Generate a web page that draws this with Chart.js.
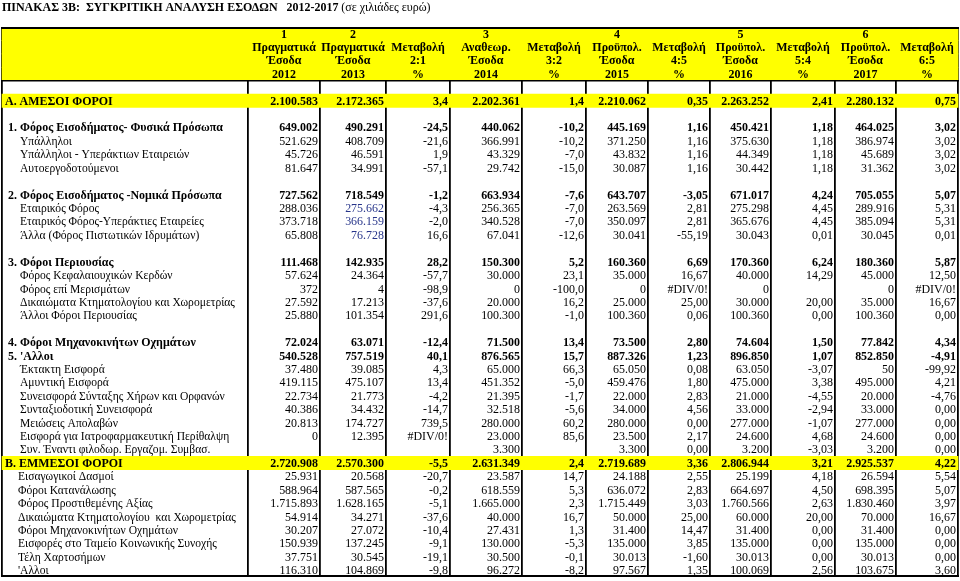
<!DOCTYPE html>
<html>
<head>
<meta charset="utf-8">
<script src="https://cdn.jsdelivr.net/npm/chart.js@4.4.1/dist/chart.umd.min.js"></script>
<style>
    html, body { margin: 0; padding: 0; background: #fff; }
    canvas { display: block; }
</style>
</head>
<body>
<canvas id="chartEsoda" width="960" height="581"></canvas>
<script>
// ==============================
// Data
// ==============================
const titleMain = 'ΠΙΝΑΚΑΣ 3Β:  ΣΥΓΚΡΙΤΙΚΗ ΑΝΑΛΥΣΗ ΕΣΟΔΩΝ   2012-2017';
const titleNote = ' (σε χιλιάδες ευρώ)';

const headNum  = ['1', '2', '', '3', '', '4', '', '5', '', '6', ''];
const headName = ['Πραγματικά', 'Πραγματικά', 'Μεταβολή', 'Αναθεωρ.', 'Μεταβολή', 'Προϋπολ.', 'Μεταβολή', 'Προϋπολ.', 'Μεταβολή', 'Προϋπολ.', 'Μεταβολή'];
const headSub  = ['Έσοδα', 'Έσοδα', '2:1', 'Έσοδα', '3:2', 'Έσοδα', '4:5', 'Έσοδα', '5:4', 'Έσοδα', '6:5'];
const headYear = ['2012', '2013', '%', '2014', '%', '2015', '%', '2016', '%', '2017', '%'];

const rowLabels = [
    'Α. ΑΜΕΣΟΙ ΦΟΡΟΙ', '',
    '1. Φόρος Εισοδήματος- Φυσικά Πρόσωπα', 'Υπάλληλοι', 'Υπάλληλοι - Υπεράκτιων Εταιρειών', 'Αυτοεργοδοτούμενοι', '',
    '2. Φόρος Εισοδήματος -Νομικά Πρόσωπα', 'Εταιρικός Φόρος', 'Εταιρικός Φόρος-Υπεράκτιες Εταιρείες', 'Άλλα (Φόρος Πιστωτικών Ιδρυμάτων)', '',
    '3. Φόροι Περιουσίας', 'Φόρος Κεφαλαιουχικών Κερδών', 'Φόρος επί Μερισμάτων', 'Δικαιώματα Κτηματολογίου και Χωρομετρίας', 'Άλλοι Φόροι Περιουσίας', '',
    '4. Φόροι Μηχανοκινήτων Οχημάτων', "5. 'Αλλοι", 'Έκτακτη Εισφορά', 'Αμυντική Εισφορά', 'Συνεισφορά Σύνταξης Χήρων και Ορφανών',
    'Συνταξιοδοτική Συνεισφορά', 'Μειώσεις Απολαβών', 'Εισφορά για Ιατροφαρμακευτική Περίθαλψη', 'Συν. Έναντι φιλοδωρ. Εργαζομ. Συμβασ.',
    'Β. ΕΜΜΕΣΟΙ ΦΟΡΟΙ', 'Εισαγωγικοί Δασμοί', 'Φόροι Κατανάλωσης', 'Φόρος Προστιθεμένης Αξίας', 'Δικαιώματα Κτηματολογίου  και Χωρομετρίας',
    'Φόροι Μηχανοκινήτων Οχημάτων', 'Εισφορές στο Ταμείο Κοινωνικής Συνοχής', 'Τέλη Χαρτοσήμων', "'Αλλοι"
];
// total = yellow group row, head = bold sub-total, sub / bsub = plain items
const rowKind = [
    'total', '',
    'head', 'sub', 'sub', 'sub', '',
    'head', 'sub', 'sub', 'sub', '',
    'head', 'sub', 'sub', 'sub', 'sub', '',
    'head', 'head', 'sub', 'sub', 'sub', 'sub', 'sub', 'sub', 'sub',
    'total', 'bsub', 'bsub', 'bsub', 'bsub', 'bsub', 'bsub', 'bsub', 'bsub'
];

const DIV0 = '#DIV/0!';
const esoda2012 = [2100583, null, 649002, 521629, 45726, 81647, null, 727562, 288036, 373718, 65808, null,
    111468, 57624, 372, 27592, 25880, null, 72024, 540528, 37480, 419115, 22734, 40386, 20813, 0, null,
    2720908, 25931, 588964, 1715893, 54914, 30207, 150939, 37751, 116310];
const esoda2013 = [2172365, null, 490291, 408709, 46591, 34991, null, 718549, 275662, 366159, 76728, null,
    142935, 24364, 4, 17213, 101354, null, 63071, 757519, 39085, 475107, 21773, 34432, 174727, 12395, null,
    2570300, 20568, 587565, 1628165, 34271, 27072, 137245, 30545, 104869];
const metab21 = [3.4, null, -24.5, -21.6, 1.9, -57.1, null, -1.2, -4.3, -2.0, 16.6, null,
    28.2, -57.7, -98.9, -37.6, 291.6, null, -12.4, 40.1, 4.3, 13.4, -4.2, -14.7, 739.5, DIV0, null,
    -5.5, -20.7, -0.2, -5.1, -37.6, -10.4, -9.1, -19.1, -9.8];
const esoda2014 = [2202361, null, 440062, 366991, 43329, 29742, null, 663934, 256365, 340528, 67041, null,
    150300, 30000, 0, 20000, 100300, null, 71500, 876565, 65000, 451352, 21395, 32518, 280000, 23000, 3300,
    2631349, 23587, 618559, 1665000, 40000, 27431, 130000, 30500, 96272];
const metab32 = [1.4, null, -10.2, -10.2, -7.0, -15.0, null, -7.6, -7.0, -7.0, -12.6, null,
    5.2, 23.1, -100.0, 16.2, -1.0, null, 13.4, 15.7, 66.3, -5.0, -1.7, -5.6, 60.2, 85.6, null,
    2.4, 14.7, 5.3, 2.3, 16.7, 1.3, -5.3, -0.1, -8.2];
const esoda2015 = [2210062, null, 445169, 371250, 43832, 30087, null, 643707, 263569, 350097, 30041, null,
    160360, 35000, 0, 25000, 100360, null, 73500, 887326, 65050, 459476, 22000, 34000, 280000, 23500, 3300,
    2719689, 24188, 636072, 1715449, 50000, 31400, 135000, 30013, 97567];
const metab45 = [0.35, null, 1.16, 1.16, 1.16, 1.16, null, -3.05, 2.81, 2.81, -55.19, null,
    6.69, 16.67, DIV0, 25.00, 0.06, null, 2.80, 1.23, 0.08, 1.80, 2.83, 4.56, 0.00, 2.17, 0.00,
    3.36, 2.55, 2.83, 3.03, 25.00, 14.47, 3.85, -1.60, 1.35];
const esoda2016 = [2263252, null, 450421, 375630, 44349, 30442, null, 671017, 275298, 365676, 30043, null,
    170360, 40000, 0, 30000, 100360, null, 74604, 896850, 63050, 475000, 21000, 33000, 277000, 24600, 3200,
    2806944, 25199, 664697, 1760566, 60000, 31400, 135000, 30013, 100069];
const metab54 = [2.41, null, 1.18, 1.18, 1.18, 1.18, null, 4.24, 4.45, 4.45, 0.01, null,
    6.24, 14.29, null, 20.00, 0.00, null, 1.50, 1.07, -3.07, 3.38, -4.55, -2.94, -1.07, 4.68, -3.03,
    3.21, 4.18, 4.50, 2.63, 20.00, 0.00, 0.00, 0.00, 2.56];
const esoda2017 = [2280132, null, 464025, 386974, 45689, 31362, null, 705055, 289916, 385094, 30045, null,
    180360, 45000, 0, 35000, 100360, null, 77842, 852850, 50, 495000, 20000, 33000, 277000, 24600, 3200,
    2925537, 26594, 698395, 1830460, 70000, 31400, 135000, 30013, 103675];
const metab65 = [0.75, null, 3.02, 3.02, 3.02, 3.02, null, 5.07, 5.31, 5.31, 0.01, null,
    5.87, 12.50, DIV0, 16.67, 0.00, null, 4.34, -4.91, -99.92, 4.21, -4.76, 0.00, 0.00, 0.00, 0.00,
    4.22, 5.54, 5.07, 3.97, 16.67, 0.00, 0.00, 0.00, 3.60];

const tableCols = [esoda2012, esoda2013, metab21, esoda2014, metab32, esoda2015, metab45, esoda2016, metab54, esoda2017, metab65];
const colDecimals = [0, 0, 1, 0, 1, 0, 2, 0, 2, 0, 2];
// cells printed in navy in the source sheet: [row, col]
const blueCells = [[8, 1], [9, 1], [10, 1]];

// ==============================
// Layout (x-scale units)
// ==============================
const colEdges = [2, 248, 320, 386, 450, 522, 586, 648, 710, 771, 835, 896, 958];
const HEAD_ROWS = 5; // 4 header lines + 1 empty line
const rowKeys = ['h1', 'h2', 'h3', 'h4', 'gap'].concat(rowLabels.map((l, i) => 'r' + i));
const indentOf = { total: 3, head: 6, sub: 18, bsub: 16 };
const FONT = '"Liberation Serif", "Times New Roman", serif';
const SIZE = 13;     // scanned sheet: glyphs are tall and slightly condensed
const SQUEEZE = 0.92;

// ==============================
// Helper
// ==============================
function formatCell(v, dec) {
    if (v === null || v === undefined) return '';
    if (typeof v === 'string') return v;
    if (dec > 0) return v.toFixed(dec).replace('.', ',');
    const s = Math.abs(Math.round(v)).toString().replace(/\B(?=(\d{3})+(?!\d))/g, '.');
    return (v < 0 ? '-' : '') + s;
}

function isYellow(i) {
    return i < 4 || (i >= HEAD_ROWS && rowKind[i - HEAD_ROWS] === 'total');
}

function drawText(ctx, txt, px, py, align, bold, sx) {
    ctx.save();
    ctx.translate(px, py);
    ctx.scale(sx, 1);
    ctx.textAlign = align;
    ctx.font = (bold ? 'bold ' : '') + SIZE + 'px ' + FONT;
    ctx.fillText(txt, 0, 0);
    ctx.restore();
}

// ==============================
// Text plugin
// ==============================
const tablePlugin = {
    id: 'tableText',
    afterDraw(chart) {
        const { ctx, chartArea } = chart;
        const x = chart.scales.x, y = chart.scales.y;
        const half = (y.getPixelForValue(1) - y.getPixelForValue(0)) / 2;
        ctx.save();
        ctx.fillStyle = '#000';
        ctx.textBaseline = 'middle';

        // title
        drawText(ctx, titleMain, 2, 8, 'left', true, SQUEEZE);
        ctx.font = 'bold ' + SIZE + 'px ' + FONT;
        const w = ctx.measureText(titleMain).width * SQUEEZE;
        drawText(ctx, titleNote, 2 + w, 8, 'left', false, SQUEEZE);

        // horizontal borders
        ctx.strokeStyle = '#000';
        const hline = (py, lw) => {
            ctx.lineWidth = lw;
            ctx.beginPath();
            ctx.moveTo(x.getPixelForValue(colEdges[0]) - 1, py);
            ctx.lineTo(x.getPixelForValue(colEdges[colEdges.length - 1]) + 1, py);
            ctx.stroke();
        };
        hline(chartArea.top + 1, 2);
        hline(y.getPixelForValue(3) + half, 1.5);
        hline(chartArea.bottom - 1, 2);

        // header lines
        [headNum, headName, headSub, headYear].forEach((line, r) => {
            line.forEach((t, c) => {
                const cx = (x.getPixelForValue(colEdges[c + 1]) + x.getPixelForValue(colEdges[c + 2])) / 2;
                drawText(ctx, t, cx, y.getPixelForValue(r) + 0.5, 'center', true, SQUEEZE);
            });
        });

        // body
        rowLabels.forEach((label, i) => {
            const kind = rowKind[i];
            if (!kind) return;
            const py = y.getPixelForValue(i + HEAD_ROWS) + 0.5;
            const bold = kind === 'total' || kind === 'head';
            ctx.fillStyle = '#000';
            drawText(ctx, label, x.getPixelForValue(colEdges[0]) + indentOf[kind], py, 'left', bold,
                bold ? SQUEEZE : 0.89);

            tableCols.forEach((col, c) => {
                const txt = formatCell(col[i], colDecimals[c]);
                if (!txt) return;
                const left = x.getPixelForValue(colEdges[c + 1]);
                const right = x.getPixelForValue(colEdges[c + 2]);
                const blue = blueCells.some(b => b[0] === i && b[1] === c);
                ctx.save();
                ctx.beginPath();
                ctx.rect(left + 1, py - half - 1, right - left - 2, half * 2 + 2);
                ctx.clip();
                ctx.fillStyle = blue ? '#27358a' : '#000';
                drawText(ctx, txt, right - 2, py, 'right', bold, SQUEEZE);
                ctx.restore();
            });
        });
        ctx.restore();
    }
};

// ==============================
// Chart.js
// ==============================
function renderTable() {
    const ctx = document.getElementById('chartEsoda').getContext('2d');
    const bands = rowKeys.map((k, i) => isYellow(i) ? [colEdges[0], colEdges[colEdges.length - 1]] : null);
    new Chart(ctx, {
        type: 'bar',
        data: {
            labels: rowKeys,
            datasets: [{
                data: bands,
                backgroundColor: '#ffff00',
                borderWidth: 0,
                barPercentage: 1,
                categoryPercentage: 1
            }]
        },
        options: {
            indexAxis: 'y',
            responsive: false,
            animation: false,
            devicePixelRatio: 1,
            layout: { padding: { top: 27, bottom: 4, left: 0, right: 0 } },
            plugins: { legend: { display: false }, tooltip: { enabled: false } },
            scales: {
                x: {
                    type: 'linear', min: 0, max: 960, position: 'top', z: 1,
                    afterBuildTicks: s => { s.ticks = colEdges.map(v => ({ value: v })); },
                    ticks: { display: false },
                    border: { display: false },
                    grid: { color: '#000', lineWidth: 1.8, drawTicks: false }
                },
                y: { display: false }
            }
        },
        plugins: [tablePlugin]
    });
}

renderTable();
</script>
</body>
</html>
